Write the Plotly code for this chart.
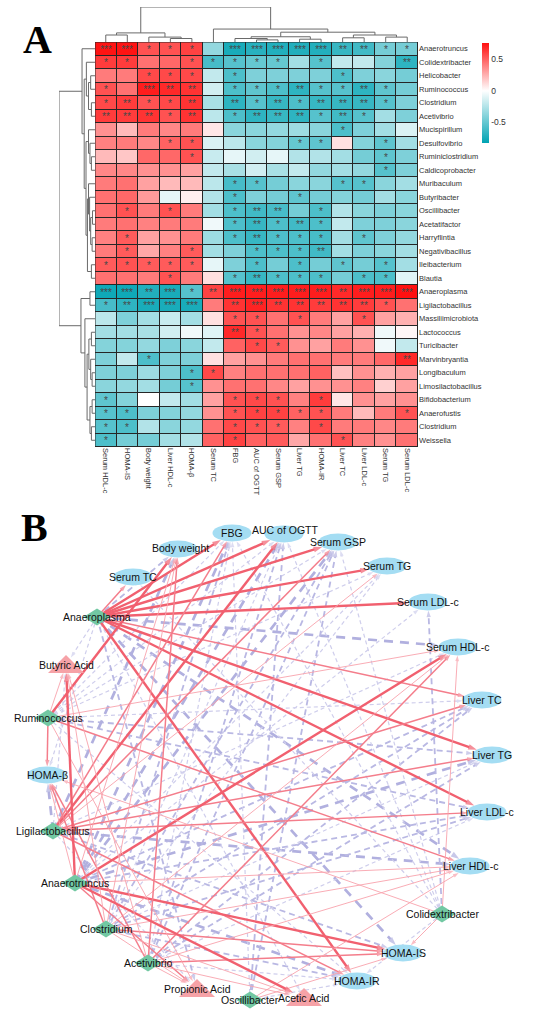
import math
import plotly.graph_objects as go

W, H = 550, 1014

# ---------------- Panel A data ----------------
columns = ["Serum HDL-c", "HOMA-IS", "Body weight", "Liver HDL-c", "HOMA-β", "Serum TC", "FBG",
           "AUC of OGTT", "Serum GSP", "Liver TG", "HOMA-IR", "Liver TC", "Liver LDL-c",
           "Serum TG", "Serum LDL-c"]

genera = ["Anaerotruncus", "Colidextribacter", "Helicobacter", "Ruminococcus", "Clostridium",
          "Acetivibrio", "Mucispirillum", "Desulfovibrio", "Ruminiclostridium", "Caldicoprobacter",
          "Muribaculum", "Butyribacter", "Oscillibacter", "Acetatifactor", "Harryflintia",
          "Negativibacillus", "Ileibacterium", "Blautia", "Anaeroplasma", "Ligilactobacillus",
          "Massiliimicrobiota", "Lactococcus", "Turicibacter", "Marvinbryantia", "Longibaculum",
          "Limosilactobacillus", "Bifidobacterium", "Anaerofustis", "Clostridium", "Weissella"]

corr = [
    [0.75, 0.75, 0.55, 0.55, 0.60, -0.35, -0.75, -0.70, -0.72, -0.72, -0.72, -0.65, -0.62, -0.45, -0.45],
    [0.62, 0.62, 0.45, 0.48, 0.55, -0.60, -0.55, -0.50, -0.50, -0.30, -0.55, -0.20, -0.20, -0.40, -0.68],
    [0.42, 0.42, 0.58, 0.58, 0.58, -0.20, -0.58, -0.42, -0.42, -0.42, -0.42, -0.58, -0.42, -0.38, -0.45],
    [0.55, 0.45, 0.72, 0.68, 0.65, -0.15, -0.58, -0.52, -0.58, -0.68, -0.55, -0.55, -0.68, -0.52, -0.45],
    [0.58, 0.62, 0.55, 0.58, 0.65, -0.28, -0.68, -0.55, -0.65, -0.58, -0.65, -0.65, -0.65, -0.55, -0.42],
    [0.62, 0.62, 0.65, 0.55, 0.65, -0.22, -0.58, -0.68, -0.65, -0.68, -0.55, -0.62, -0.55, -0.30, -0.42],
    [0.35, 0.22, 0.42, 0.38, 0.42, 0.08, -0.38, -0.38, -0.35, -0.32, -0.38, -0.58, -0.42, -0.30, -0.12],
    [0.40, 0.42, 0.38, 0.50, 0.55, -0.12, -0.22, -0.38, -0.40, -0.50, -0.52, 0.10, -0.40, -0.52, -0.30],
    [0.22, 0.18, 0.48, 0.48, 0.55, -0.18, -0.08, -0.15, -0.08, -0.25, -0.25, -0.30, -0.45, -0.52, -0.42],
    [0.38, 0.38, 0.35, 0.35, 0.30, -0.20, -0.28, -0.15, -0.28, -0.20, -0.35, -0.30, -0.35, -0.55, -0.42],
    [0.42, 0.45, 0.30, 0.22, 0.22, -0.22, -0.60, -0.55, -0.45, -0.38, -0.38, -0.55, -0.55, -0.38, -0.30],
    [0.45, 0.48, 0.32, -0.08, 0.05, -0.25, -0.58, -0.42, -0.45, -0.52, -0.45, -0.40, -0.45, -0.30, -0.38],
    [0.45, 0.55, 0.42, 0.55, 0.42, -0.30, -0.58, -0.62, -0.60, -0.45, -0.58, -0.25, -0.38, -0.42, -0.38],
    [0.42, 0.45, 0.40, 0.42, 0.42, -0.05, -0.58, -0.65, -0.58, -0.62, -0.58, -0.20, -0.42, -0.42, -0.38],
    [0.40, 0.52, 0.30, 0.35, 0.42, -0.32, -0.58, -0.65, -0.58, -0.58, -0.60, -0.30, -0.52, -0.42, -0.35],
    [0.42, 0.52, 0.28, 0.40, 0.52, -0.30, -0.42, -0.58, -0.58, -0.58, -0.62, -0.30, -0.42, -0.38, -0.30],
    [0.52, 0.55, 0.52, 0.52, 0.52, -0.08, -0.42, -0.58, -0.45, -0.58, -0.45, -0.52, -0.45, -0.55, -0.30],
    [0.45, 0.45, 0.42, 0.55, 0.42, 0.10, -0.55, -0.65, -0.58, -0.58, -0.58, -0.45, -0.58, -0.58, -0.10],
    [-0.78, -0.78, -0.72, -0.75, -0.55, 0.60, 0.72, 0.72, 0.72, 0.72, 0.72, 0.68, 0.72, 0.72, 0.76],
    [-0.60, -0.68, -0.75, -0.75, -0.75, 0.42, 0.65, 0.70, 0.65, 0.65, 0.62, 0.65, 0.62, 0.55, 0.45],
    [-0.22, -0.42, -0.30, -0.18, -0.30, 0.10, 0.55, 0.55, 0.45, 0.55, 0.42, 0.30, 0.55, 0.30, 0.25],
    [-0.30, -0.30, -0.28, -0.15, -0.05, -0.10, 0.68, 0.55, 0.45, 0.35, 0.38, 0.30, 0.25, -0.05, 0.03],
    [-0.40, -0.40, -0.35, -0.42, -0.38, -0.20, 0.50, 0.58, 0.52, 0.35, 0.30, 0.42, 0.35, -0.05, -0.20],
    [-0.42, -0.20, -0.58, -0.42, -0.42, 0.10, 0.30, 0.35, 0.42, 0.45, 0.45, 0.42, 0.42, 0.48, 0.68],
    [-0.42, -0.42, -0.32, -0.42, -0.58, 0.58, 0.40, 0.45, 0.45, 0.45, 0.50, 0.20, 0.35, 0.25, 0.30],
    [-0.38, -0.35, -0.30, -0.45, -0.55, 0.35, 0.45, 0.45, 0.38, 0.30, 0.35, 0.35, 0.40, 0.15, 0.30],
    [-0.52, -0.40, 0.00, -0.20, -0.30, 0.30, 0.55, 0.58, 0.55, 0.40, 0.62, 0.08, 0.35, 0.30, 0.35],
    [-0.55, -0.58, -0.42, -0.40, -0.35, 0.35, 0.55, 0.60, 0.60, 0.50, 0.55, 0.42, 0.22, 0.42, 0.55],
    [-0.55, -0.58, -0.25, -0.38, -0.35, 0.45, 0.58, 0.55, 0.52, 0.40, 0.58, 0.42, 0.42, 0.38, 0.42],
    [-0.58, -0.45, -0.45, -0.30, -0.25, 0.50, 0.60, 0.50, 0.52, 0.28, 0.45, 0.55, 0.40, 0.35, 0.45],
]

# number of significance stars
signif = [
    [3, 3, 1, 1, 1, 0, 3, 3, 3, 3, 3, 2, 2, 1, 1],
    [1, 1, 0, 0, 1, 1, 1, 1, 1, 0, 1, 0, 0, 0, 2],
    [0, 0, 1, 1, 1, 0, 1, 0, 0, 0, 0, 1, 0, 0, 0],
    [1, 0, 3, 2, 2, 0, 1, 1, 1, 2, 1, 1, 2, 1, 0],
    [1, 2, 1, 1, 2, 0, 2, 1, 2, 1, 2, 2, 2, 1, 0],
    [2, 2, 2, 1, 2, 0, 1, 2, 2, 2, 1, 2, 1, 0, 0],
    [0, 0, 0, 0, 0, 0, 0, 0, 0, 0, 0, 1, 0, 0, 0],
    [0, 0, 0, 1, 1, 0, 0, 0, 0, 1, 1, 0, 0, 1, 0],
    [0, 0, 0, 0, 1, 0, 0, 0, 0, 0, 0, 0, 0, 1, 0],
    [0, 0, 0, 0, 0, 0, 0, 0, 0, 0, 0, 0, 0, 1, 0],
    [0, 0, 0, 0, 0, 0, 1, 1, 0, 0, 0, 1, 1, 0, 0],
    [0, 0, 0, 0, 0, 0, 1, 0, 0, 1, 0, 0, 0, 0, 0],
    [0, 1, 0, 1, 0, 0, 1, 2, 2, 0, 1, 0, 0, 0, 0],
    [0, 0, 0, 0, 0, 0, 1, 2, 1, 2, 1, 0, 0, 0, 0],
    [0, 1, 0, 0, 0, 0, 1, 2, 1, 1, 1, 0, 1, 0, 0],
    [0, 1, 0, 0, 1, 0, 0, 1, 1, 1, 2, 0, 0, 0, 0],
    [1, 1, 1, 1, 1, 0, 0, 1, 0, 1, 0, 1, 0, 1, 0],
    [0, 0, 0, 1, 0, 0, 1, 2, 1, 1, 1, 0, 1, 1, 0],
    [3, 3, 2, 3, 1, 2, 3, 3, 3, 3, 3, 2, 3, 3, 3],
    [1, 2, 3, 3, 3, 0, 2, 3, 2, 2, 2, 2, 2, 1, 0],
    [0, 0, 0, 0, 0, 0, 1, 1, 0, 1, 0, 0, 1, 0, 0],
    [0, 0, 0, 0, 0, 0, 2, 1, 0, 0, 0, 0, 0, 0, 0],
    [0, 0, 0, 0, 0, 0, 0, 1, 1, 0, 0, 0, 0, 0, 0],
    [0, 0, 1, 0, 0, 0, 0, 0, 0, 0, 0, 0, 0, 0, 2],
    [0, 0, 0, 0, 1, 1, 0, 0, 0, 0, 0, 0, 0, 0, 0],
    [0, 0, 0, 0, 1, 0, 0, 0, 0, 0, 0, 0, 0, 0, 0],
    [1, 0, 0, 0, 0, 0, 1, 1, 1, 0, 1, 0, 0, 0, 0],
    [1, 1, 0, 0, 0, 0, 1, 1, 1, 1, 1, 0, 0, 0, 1],
    [1, 1, 0, 0, 0, 0, 1, 1, 1, 0, 1, 0, 0, 0, 0],
    [1, 0, 0, 0, 0, 0, 1, 0, 0, 0, 0, 1, 0, 0, 0],
]

# hierarchical clustering merges: (child a, child b, relative height); ids >= n are earlier merges
row_links = [
    (2, 3, 0.12), (4, 5, 0.10), (30, 31, 0.18), (1, 32, 0.24),
    (8, 9, 0.10), (7, 34, 0.14), (6, 35, 0.18),
    (12, 13, 0.07), (14, 15, 0.08), (37, 38, 0.12), (11, 39, 0.15), (10, 40, 0.18),
    (16, 17, 0.10), (41, 42, 0.21), (36, 43, 0.25), (33, 44, 0.30), (0, 45, 0.36),
    (18, 19, 0.14), (21, 22, 0.10), (24, 25, 0.08), (23, 49, 0.12), (48, 50, 0.17),
    (26, 27, 0.08), (28, 29, 0.10), (52, 53, 0.14), (51, 54, 0.22), (20, 55, 0.28),
    (47, 56, 0.39), (46, 57, 1.00),
]
col_links = [
    (0, 1, 0.20), (3, 4, 0.10), (2, 16, 0.14), (15, 17, 0.26),
    (7, 8, 0.06), (6, 19, 0.10), (9, 10, 0.08), (20, 21, 0.15),
    (11, 12, 0.12), (13, 14, 0.14), (23, 24, 0.20), (22, 25, 0.28),
    (5, 26, 0.37), (18, 27, 1.00),
]

# ---------------- Panel B data ----------------
network_genera = ["Anaeroplasma", "Ruminococcus", "Ligilactobacillus", "Anaerotruncus",
                  "Clostridium", "Acetivibrio", "Oscillibacter", "Colidextribacter"]
scfa_nodes = ["Butyric Acid", "Propionic Acid", "Acetic Acid"]
# genus -> SCFA correlations: (source, target, sign, stars)
scfa_edges = [
    ("Anaeroplasma", "Butyric Acid", -1, 1), ("Anaeroplasma", "Propionic Acid", -1, 2),
    ("Anaeroplasma", "Acetic Acid", -1, 1),
    ("Ruminococcus", "Butyric Acid", 1, 1), ("Ruminococcus", "Propionic Acid", 1, 1),
    ("Ligilactobacillus", "Butyric Acid", -1, 1), ("Ligilactobacillus", "Propionic Acid", -1, 1),
    ("Anaerotruncus", "Butyric Acid", 1, 3), ("Anaerotruncus", "Propionic Acid", 1, 2),
    ("Anaerotruncus", "Acetic Acid", 1, 3),
    ("Clostridium", "Butyric Acid", 1, 1), ("Clostridium", "Propionic Acid", 1, 1),
    ("Clostridium", "Acetic Acid", 1, 1),
    ("Acetivibrio", "Butyric Acid", 1, 1), ("Acetivibrio", "Propionic Acid", 1, 1),
    ("Acetivibrio", "Acetic Acid", 1, 1),
]
# network layout (drawing positions of the nodes, in panel pixels)
net_layout = {
    "FBG": (232, 533), "AUC of OGTT": (284, 534), "Serum GSP": (338, 542), "Serum TG": (387, 566),
    "Serum LDL-c": (428, 602), "Serum HDL-c": (458, 647), "Liver TC": (482, 700),
    "Liver TG": (492, 755), "Liver LDL-c": (487, 812), "Liver HDL-c": (470, 866),
    "HOMA-IS": (403, 953), "HOMA-IR": (357, 981), "HOMA-β": (47, 775), "Serum TC": (133, 577),
    "Body weight": (178, 549),
    "Anaeroplasma": (97, 617), "Ruminococcus": (48, 718), "Ligilactobacillus": (53, 831),
    "Anaerotruncus": (75, 883), "Clostridium": (106, 929), "Acetivibrio": (148, 963),
    "Oscillibacter": (250, 1000), "Colidextribacter": (442, 914),
    "Butyric Acid": (66, 665), "Propionic Acid": (197, 989), "Acetic Acid": (304, 998),
}
label_shift = {"AUC of OGTT": (1, -4), "Body weight": (2, -1)}

# ---------------- styles ----------------
FONT = "Liberation Sans"
POS_COLS = {1: "#F8A3AD", 2: "#F47D8B", 3: "#F1606F"}
NEG_COLS = {1: "#CFCEEC", 2: "#B9B8E3", 3: "#B1B0DF"}
ELL_COL = "#A4DDF3"
DIA_COL = "#72C8A3"
TRI_COL = "#F6A2A7"
DEND_COL = "#6a6a6a"

HM_X = (95 / W, 418 / W)
HM_Y = (1 - 447 / H, 1 - 42 / H)
nR, nC = len(genera), len(columns)

fig = go.Figure()

# heatmap
fig.add_trace(go.Heatmap(
    z=corr, x=list(range(nC)), y=list(range(nR)),
    text=[["*" * s for s in r] for r in signif], texttemplate="%{text}",
    textfont=dict(size=10, color="#484848", family=FONT),
    zmin=-0.83, zmax=0.76,
    colorscale=[[0, "#00A3B3"], [0.83 / 1.59, "#FFFFFF"], [1, "#FF1010"]],
    xgap=1, ygap=1, hoverinfo="skip",
    colorbar=dict(x=482 / W, xanchor="left", y=1 - 43 / H, yanchor="top",
                  len=100 / H, lenmode="fraction", thickness=7, xpad=0, ypad=0,
                  outlinewidth=0, tickvals=[-0.5, 0, 0.5], ticktext=["-0.5", "0", "0.5"],
                  tickfont=dict(size=8.5, color="#333", family=FONT), ticks=""),
    xaxis="x", yaxis="y",
))


def dendro(links, n):
    pos = {i: float(i) for i in range(n)}
    hgt = {i: 0.0 for i in range(n)}
    xs, ys = [], []
    for k, (a, b, h) in enumerate(links):
        pa, pb = pos[a], pos[b]
        xs += [pa, pa, pb, pb, None]
        ys += [hgt[a], h, h, hgt[b], None]
        pos[n + k] = (pa + pb) / 2
        hgt[n + k] = h
    return xs, ys


cx, cy = dendro(col_links, nC)
fig.add_trace(go.Scatter(x=cx, y=cy, mode="lines", line=dict(color=DEND_COL, width=1),
                         hoverinfo="skip", showlegend=False, xaxis="x2", yaxis="y2"))
rp, rh = dendro(row_links, nR)
fig.add_trace(go.Scatter(x=rh, y=rp, mode="lines", line=dict(color=DEND_COL, width=1),
                         hoverinfo="skip", showlegend=False, xaxis="x3", yaxis="y3"))

# ---------------- network ----------------
def kind(name):
    if name in network_genera:
        return "genus"
    if name in scfa_nodes:
        return "scfa"
    return "index"


def boundary(name, dx, dy):
    d = math.hypot(dx, dy)
    c, s = abs(dx) / d, abs(dy) / d
    k = kind(name)
    if k == "index":
        a, b = 19.5, 8.5
        return 1 / math.sqrt((c / a) ** 2 + (s / b) ** 2)
    if k == "genus":
        a, b = 13.5, 8.5
        return 1 / (c / a + s / b)
    a, b = 15, 8
    return 1 / math.sqrt((c / a) ** 2 + (s / b) ** 2)


edges = []
for g in network_genera:
    i = genera.index(g)
    for j, col in enumerate(columns):
        if signif[i][j] > 0:
            edges.append((g, col, 1 if corr[i][j] > 0 else -1, signif[i][j]))
edges += scfa_edges

widths = {1: 0.9, 2: 1.5, 3: 2.4}
asize = {1: 6, 2: 7, 3: 9}
dashes = {1: "4px,3px", 2: "6px,4px", 3: "9px,7px"}
ordered = [e for e in edges if e[2] < 0] + [e for e in edges if e[2] > 0]
for src, tgt, sg, st in ordered:
    x0, y0 = net_layout[src]
    x1, y1 = net_layout[tgt]
    dx, dy = x1 - x0, y1 - y0
    r = boundary(tgt, dx, dy)
    d = math.hypot(dx, dy)
    ex, ey = x1 - dx / d * r, y1 - dy / d * r
    col = POS_COLS[st] if sg > 0 else NEG_COLS[st]
    dash = "solid" if sg > 0 else dashes[st]
    fig.add_trace(go.Scatter(
        x=[x0, ex], y=[y0, ey], mode="lines+markers",
        line=dict(color=col, width=widths[st] if sg > 0 else widths[st] + 0.3, dash=dash),
        marker=dict(symbol="arrow", size=[0, asize[st]], angleref="previous", color=col,
                    line=dict(width=0)),
        hoverinfo="skip", showlegend=False, xaxis="x4", yaxis="y4"))

shapes = []
annotations = []
for name, (x, y) in net_layout.items():
    k = kind(name)
    if k == "index":
        shapes.append(dict(type="circle", xref="x4", yref="y4", x0=x - 19.5, x1=x + 19.5,
                           y0=y - 8.5, y1=y + 8.5, fillcolor=ELL_COL, line=dict(width=0),
                           layer="above"))
    elif k == "genus":
        shapes.append(dict(type="path", xref="x4", yref="y4",
                           path=f"M{x-13.5},{y} L{x},{y-8.5} L{x+13.5},{y} L{x},{y+8.5} Z",
                           fillcolor=DIA_COL, line=dict(width=0), layer="above"))
    else:
        shapes.append(dict(type="path", xref="x4", yref="y4",
                           path=f"M{x-18},{y+8} L{x},{y-10} L{x+18},{y+8} Z",
                           fillcolor=TRI_COL, line=dict(width=0), layer="above"))
    sx, sy = label_shift.get(name, (0, 0))
    annotations.append(dict(x=x + sx, y=y + sy, xref="x4", yref="y4", text=name, showarrow=False,
                            xanchor="center", yanchor="middle",
                            font=dict(family=FONT, size=10.5, color="#111")))

# heatmap cell borders
shapes.append(dict(type="rect", xref="x", yref="y", x0=-0.5, x1=nC - 0.5, y0=-0.5, y1=nR - 0.5,
                   fillcolor="#262626", line=dict(width=0), layer="below"))
shapes.append(dict(type="rect", xref="x", yref="y", x0=-0.5, x1=nC - 0.5, y0=-0.5, y1=nR - 0.5,
                   fillcolor="rgba(0,0,0,0)", line=dict(width=1, color="#262626"), layer="above"))

annotations.append(dict(x=37 / W, y=1 - 40 / H, xref="paper", yref="paper", text="<b>A</b>",
                        xanchor="center", yanchor="middle", showarrow=False,
                        font=dict(family="Liberation Serif", size=40, color="#000")))
annotations.append(dict(x=35 / W, y=1 - 527 / H, xref="paper", yref="paper", text="<b>B</b>",
                        xanchor="center", yanchor="middle", showarrow=False,
                        font=dict(family="Liberation Serif", size=40, color="#000")))

fig.update_layout(
    width=W, height=H, margin=dict(l=0, r=0, t=0, b=0),
    paper_bgcolor="white", plot_bgcolor="white", showlegend=False,
    font=dict(family=FONT),
    xaxis=dict(domain=HM_X, range=[-0.5, nC - 0.5], tickvals=list(range(nC)), ticktext=columns,
               tickangle=90, tickfont=dict(size=7.5, color="#333"), ticks="", showgrid=False,
               zeroline=False, anchor="y", ticklabelstandoff=0),
    yaxis=dict(domain=HM_Y, range=[nR - 0.5, -0.5], tickvals=list(range(nR)), ticktext=genera,
               side="right", tickfont=dict(size=7.5, color="#333"), ticks="", showgrid=False,
               zeroline=False, anchor="x", ticklabelstandoff=0),
    xaxis2=dict(domain=HM_X, range=[-0.5, nC - 0.5], visible=False, anchor="y2"),
    yaxis2=dict(domain=(1 - 42 / H, 1 - 7 / H), range=[0, 1.0], visible=False, anchor="x2"),
    xaxis3=dict(domain=(59 / W, 95 / W), range=[1.0, 0], visible=False, anchor="y3"),
    yaxis3=dict(domain=HM_Y, range=[nR - 0.5, -0.5], visible=False, anchor="x3"),
    xaxis4=dict(domain=(0, 1), range=[0, W], visible=False, anchor="y4"),
    yaxis4=dict(domain=(0, 1 - 500 / H), range=[H, 500], visible=False, anchor="x4"),
    shapes=shapes, annotations=annotations,
)

fig.write_html("out.html", config={"displayModeBar": False},
               post_script="document.body.style.margin='0px';document.body.style.overflow='hidden';")
